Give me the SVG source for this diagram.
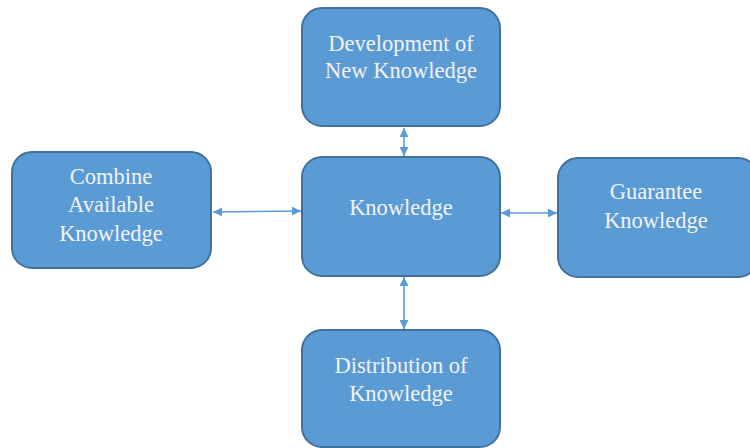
<svg xmlns="http://www.w3.org/2000/svg" width="750" height="448" viewBox="0 0 750 448">
<style>
.box{fill:#5b9bd5;stroke:#41719c;stroke-width:2}
.t{font-family:"Liberation Serif","Times New Roman",serif;font-size:22.5px;fill:#f2f2f2;text-anchor:middle}
.c{stroke:#5b9bd5;stroke-width:1.6;fill:none;marker-start:url(#a);marker-end:url(#a)}
</style>
<defs>
<marker id="a" viewBox="0 0 10 10" refX="10" refY="5" markerWidth="9" markerHeight="9" markerUnits="userSpaceOnUse" orient="auto-start-reverse">
<path d="M0,0 L10,5 L0,10 z" fill="#5b9bd5"/>
</marker>
</defs>
<rect width="750" height="448" fill="#ffffff"/>
<g id="connectors">
<line class="c" x1="404" y1="128" x2="404" y2="156"/>
<line class="c" x1="404" y1="277" x2="404" y2="329"/>
<line class="c" x1="213" y1="212" x2="301" y2="211"/>
<line class="c" x1="501" y1="213" x2="557" y2="213"/>
</g>
<g id="development">
<rect class="box" x="302" y="8" width="198" height="118" rx="20"/>
<text class="t" x="401" y="51">Development of</text>
<text class="t" x="401" y="78">New Knowledge</text>
</g>
<g id="knowledge">
<rect class="box" x="302" y="157" width="198" height="119" rx="20"/>
<text class="t" x="401" y="215">Knowledge</text>
</g>
<g id="combine">
<rect class="box" x="12" y="152" width="199" height="116" rx="20"/>
<text class="t" x="111" y="184">Combine</text>
<text class="t" x="111" y="212">Available</text>
<text class="t" x="111" y="241">Knowledge</text>
</g>
<g id="guarantee">
<rect class="box" x="558" y="158" width="200" height="119" rx="20"/>
<text class="t" x="656" y="199">Guarantee</text>
<text class="t" x="656" y="228">Knowledge</text>
</g>
<g id="distribution">
<rect class="box" x="302" y="330" width="198" height="117" rx="20"/>
<text class="t" x="401" y="373">Distribution of</text>
<text class="t" x="401" y="401">Knowledge</text>
</g>
</svg>
